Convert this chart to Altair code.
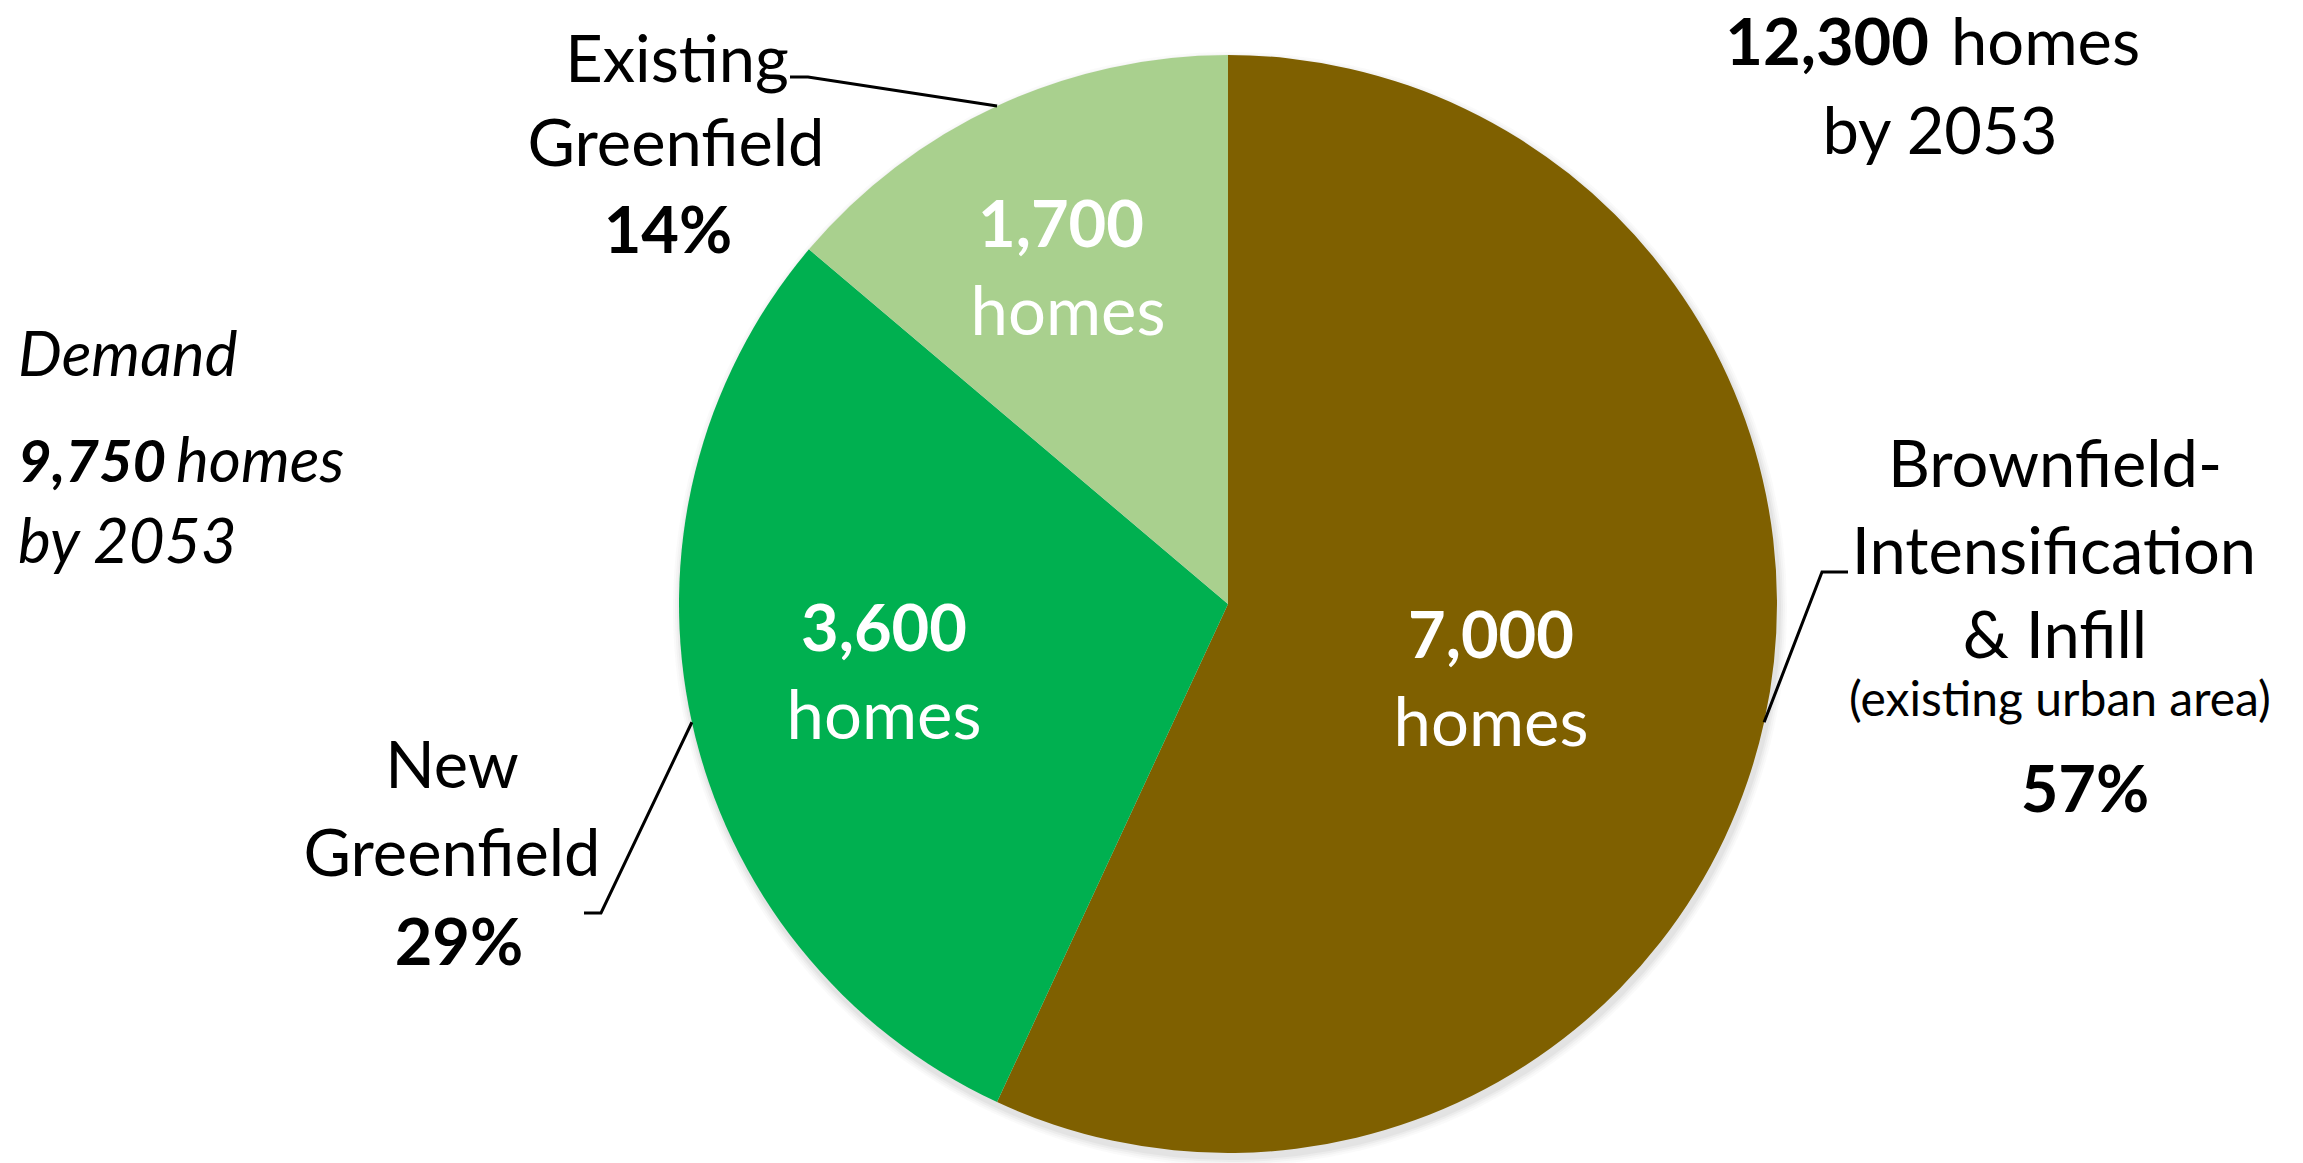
import math
import altair as alt
import pandas as pd

# ---------------- data ----------------
categories = ["Brownfield-Intensification & Infill", "New Greenfield", "Existing Greenfield"]
homes = [7000, 3600, 1700]
share_labels = ["57%", "29%", "14%"]
home_labels = ["7,000", "3,600", "1,700"]
slice_colors = ["#7F6000", "#00B050", "#A9D08E"]
supply_total_label = "12,300"
demand_total_label = "9,750"
unit_label = "homes"
horizon_label = "by 2053"
demand_label = "Demand"

# ---------------- layout ----------------
W, H = 2303, 1163
CX, CY, R = 1228, 604, 549
FONT = "Lato"

xs = alt.Scale(domain=[0, W], nice=False, zero=False)
ys = alt.Scale(domain=[0, H], nice=False, zero=False, reverse=True)

pie_df = pd.DataFrame({"category": categories, "homes": homes, "order": list(range(len(homes)))})

# soft drop shadow under the pie (stacked translucent discs)
shadow_layers = []
for k, (grow, op) in enumerate([(8, 0.035), (6, 0.045), (4, 0.06), (2, 0.08)]):
    shadow_layers.append(
        alt.Chart(pie_df).mark_arc(radius=R + grow, color="#7a7a7a", opacity=op).encode(
            theta=alt.Theta("homes:Q", stack=True),
            order=alt.Order("order:Q"),
            x=alt.value(CX + 2),
            y=alt.value(CY + 5),
        )
    )

arc = alt.Chart(pie_df).mark_arc(radius=R).encode(
    theta=alt.Theta("homes:Q", stack=True),
    color=alt.Color("category:N", scale=alt.Scale(domain=categories, range=slice_colors), legend=None),
    order=alt.Order("order:Q"),
    x=alt.value(CX),
    y=alt.value(CY),
)

# leader lines: label end -> elbow -> pie edge at slice mid-angle
total = sum(homes)
mids = []
cum = 0
for v in homes:
    mids.append((cum + v / 2) / total * 2 * math.pi)
    cum += v
edge = [(CX + R * math.sin(a), CY - R * math.cos(a)) for a in mids]
leader_start = {0: [(1848, 572), (1822, 572)], 1: [(584, 913), (601, 913)], 2: [(790, 77), (808, 77)]}
rows = []
for i in range(len(homes)):
    pts = leader_start[i] + [edge[i]]
    for s, (px, py) in enumerate(pts):
        rows.append({"line": categories[i], "seq": s, "x": px, "y": py})
lines_df = pd.DataFrame(rows)
lines = alt.Chart(lines_df).mark_line(color="black", strokeWidth=3).encode(
    x=alt.X("x:Q", scale=xs, axis=None),
    y=alt.Y("y:Q", scale=ys, axis=None),
    detail="line:N",
    order="seq:Q",
)

# text annotations
texts = [
    ("Existing", 677, 82, "reg"),
    ("Greenfield", 676, 166, "reg"),
    (share_labels[2], 668, 253, "bold"),
    ("New", 452, 788, "reg"),
    ("Greenfield", 452, 876, "reg"),
    (share_labels[1], 459, 965, "bold"),
    ("Brownfield-", 2055, 487, "reg"),
    ("Intensification", 2054, 574, "reg"),
    ("& Infill", 2055, 658, "reg"),
    ("(existing urban area)", 2060, 716, "small"),
    (share_labels[0], 2085, 812, "bold"),
    (supply_total_label, 1929, 65, "bold_right"),
    (unit_label, 1951, 65, "reg_left"),
    (horizon_label, 1940, 154, "reg"),
    (demand_label, 18, 376, "ital_left"),
    (demand_total_label, 18, 482, "bolditalic_left"),
    (unit_label, 176, 482, "ital_left"),
    (horizon_label, 18, 563, "ital_left"),
    (home_labels[0], 1491, 658, "pie_num"),
    (unit_label, 1491, 746, "pie_unit"),
    (home_labels[1], 884, 651, "pie_num"),
    (unit_label, 884, 739, "pie_unit"),
    (home_labels[2], 1061, 247, "pie_num"),
    (unit_label, 1068, 335, "pie_unit"),
]
text_df = pd.DataFrame(texts, columns=["text", "x", "y", "style"])

styles = {
    "reg": dict(fontSize=65, align="center", color="black"),
    "reg_left": dict(fontSize=65, align="left", color="black"),
    "bold": dict(fontSize=65, fontWeight="bold", align="center", color="black"),
    "bold_right": dict(fontSize=65, fontWeight="bold", align="right", color="black"),
    "small": dict(fontSize=48, align="center", color="black"),
    "ital_left": dict(fontSize=62, fontStyle="italic", align="left", color="black"),
    "bolditalic_left": dict(fontSize=58, fontStyle="italic", fontWeight="bold", align="left", color="black"),
    "pie_num": dict(fontSize=65, fontWeight="bold", align="center", color="white"),
    "pie_unit": dict(fontSize=67, align="center", color="white"),
}

text_layers = []
for key, props in styles.items():
    sub = text_df[text_df["style"] == key]
    if sub.empty:
        continue
    text_layers.append(
        alt.Chart(sub).mark_text(font=FONT, baseline="alphabetic", **props).encode(
            x=alt.X("x:Q", scale=xs, axis=None),
            y=alt.Y("y:Q", scale=ys, axis=None),
            text="text:N",
        )
    )

chart = alt.layer(*shadow_layers, arc, lines, *text_layers).properties(
    width=W, height=H, padding=0, autosize=alt.AutoSizeParams(type="none"), background="white"
).configure_view(strokeWidth=0)

chart.save("out.html", embed_options={"renderer": "svg", "actions": False})
